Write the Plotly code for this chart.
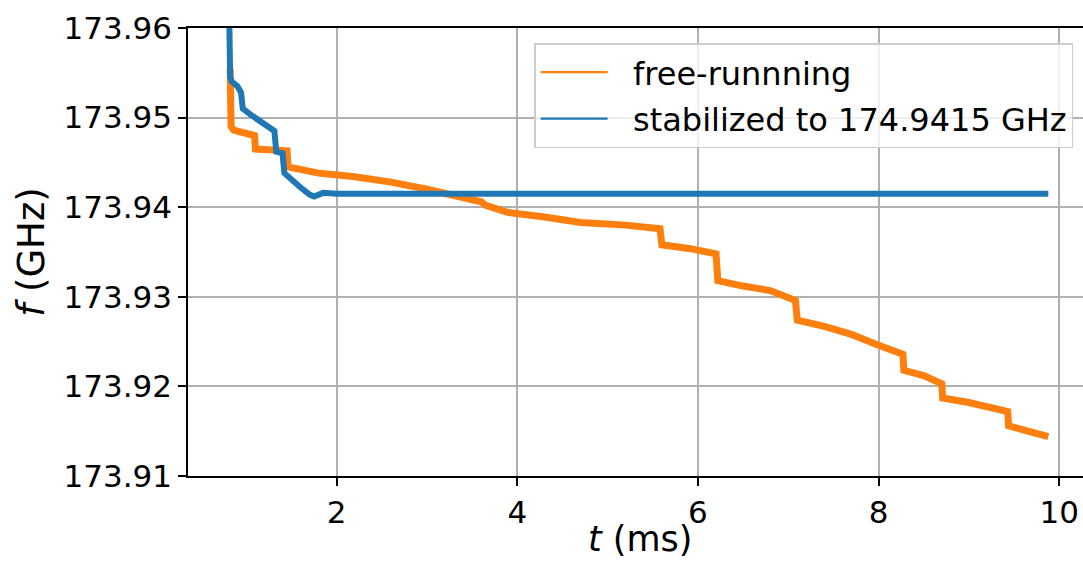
import plotly.graph_objects as go

# free-running trace (t in ms, f in GHz)
orange_t = [0.82, 0.83, 0.86, 1.05, 1.09, 1.10, 1.30, 1.45, 1.46, 1.60, 1.80, 2.2, 2.6, 3.0, 3.3,
            3.6, 3.65, 3.75, 3.9, 4.3, 4.7, 5.2, 5.58, 5.60, 5.9, 6.2, 6.22, 6.5, 6.8, 7.08,
            7.10, 7.4, 7.7, 8.0, 8.27, 8.28, 8.5, 8.70, 8.71, 9.0, 9.43, 9.44, 9.7, 9.88]
orange_f = [173.9555, 173.9490, 173.9486, 173.9482, 173.9480, 173.9465, 173.9464, 173.9463,
            173.9445, 173.9442, 173.9438, 173.9434, 173.9428, 173.9420, 173.9414,
            173.9406, 173.9402, 173.9398, 173.9394, 173.9389, 173.9383, 173.9380, 173.9376,
            173.9358, 173.9354, 173.9348, 173.9318, 173.9312, 173.9307, 173.9296,
            173.9274, 173.9267, 173.9258, 173.9246, 173.9236, 173.9218, 173.9212, 173.9203,
            173.9187, 173.9182, 173.9172, 173.9156, 173.9150, 173.9144]

# stabilized trace
blue_t = [0.81, 0.82, 0.84, 0.90, 0.94, 0.96, 1.05, 1.20, 1.31, 1.33, 1.40, 1.42, 1.50, 1.60,
          1.70, 1.75, 1.85, 2.0, 3.0, 4.0, 5.0, 6.0, 7.0, 8.0, 9.0, 9.88]
blue_f = [173.9610, 173.9545, 173.9540, 173.9535, 173.9528, 173.9510, 173.9503, 173.9493,
          173.9485, 173.9462, 173.9460, 173.9438, 173.9430, 173.9422, 173.9414, 173.9412,
          173.9416, 173.9415, 173.9415, 173.9415, 173.9415, 173.9415, 173.9415, 173.9415,
          173.9415, 173.9415]

series_names = ["free-runnning", "stabilized to 174.9415 GHz"]
series_colors = ["#ff7f0e", "#1f77b4"]
x_ticks = [2, 4, 6, 8, 10]
y_ticks = [173.91, 173.92, 173.93, 173.94, 173.95, 173.96]
x_title = "<i>t</i> (ms)"
y_title = "<i>f</i> (GHz)"

FONT = "DejaVu Sans"
GAP = "\u00a0\u00a0"

fig = go.Figure()
fig.add_trace(go.Scatter(x=orange_t, y=orange_f, mode="lines", name=series_names[0],
                         line=dict(color=series_colors[0], width=7), showlegend=False))
fig.add_trace(go.Scatter(x=blue_t, y=blue_f, mode="lines", name=series_names[1],
                         line=dict(color=series_colors[1], width=6), showlegend=False))
# legend entries with thin line samples
for i, (nm, col) in enumerate(zip(series_names, series_colors)):
    fig.add_trace(go.Scatter(x=[None], y=[None], mode="lines", name=GAP + nm,
                             line=dict(color=col, width=2.2), legendgroup=f"g{i}",
                             showlegend=True))

fig.update_layout(
    width=1083, height=564,
    margin=dict(l=188, r=0, t=28, b=88, autoexpand=False),
    paper_bgcolor="white", plot_bgcolor="white",
    font=dict(family=FONT, size=31, color="black"),
    showlegend=True,
    legend=dict(x=0.989, y=0.966, xanchor="right", yanchor="top",
                bgcolor="rgba(255,255,255,0.8)", bordercolor="#cccccc", borderwidth=1.5,
                font=dict(family=FONT, size=32, color="black"),
                tracegroupgap=2, itemwidth=67),
    xaxis=dict(range=[0.353, 10.264], tickvals=x_ticks, ticktext=[str(v) for v in x_ticks],
               showgrid=True, gridcolor="#b0b0b0", gridwidth=1.6,
               showline=True, linecolor="black", linewidth=1.6, mirror=True,
               ticks="outside", ticklen=8, tickwidth=1.6, tickcolor="black",
               zeroline=False, automargin=False),
    yaxis=dict(range=[173.91, 173.96], tickvals=y_ticks, ticktext=[f"{v:.2f}" for v in y_ticks],
               showgrid=True, gridcolor="#b0b0b0", gridwidth=1.6,
               showline=True, linecolor="black", linewidth=1.6,
               ticks="outside", ticklen=8, tickwidth=1.6, tickcolor="black",
               zeroline=False, automargin=False,
               title=dict(text=y_title, font=dict(family=FONT, size=37), standoff=8)),
    annotations=[dict(text=x_title, xref="paper", yref="paper", x=0.506, y=-0.141,
                      xanchor="center", yanchor="middle", showarrow=False,
                      font=dict(family=FONT, size=35, color="black"))],
)

fig.write_html("out.html")
